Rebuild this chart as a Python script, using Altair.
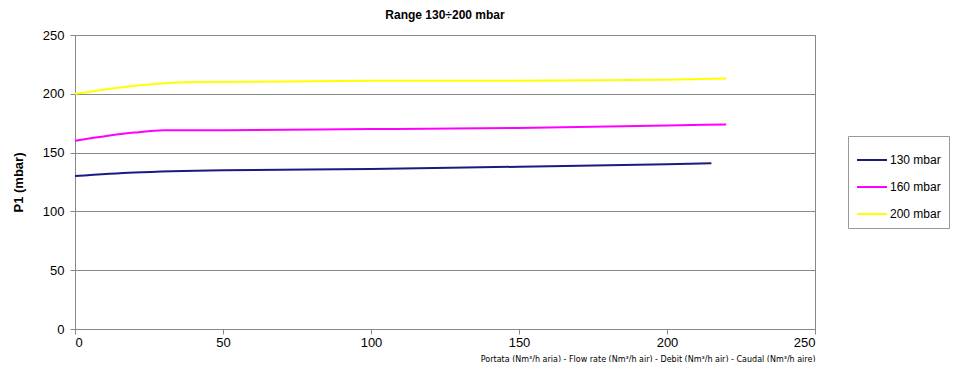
import altair as alt
import pandas as pd

series_names = ["130 mbar", "160 mbar", "200 mbar"]
colors = ["#1a1a80", "#ff00ff", "#ffff00"]

x_130 = [0, 20, 50, 100, 150, 200, 215]
y_130 = [130, 133, 135, 136, 138, 140, 141]
x_160 = [0, 20, 30, 50, 100, 150, 200, 220]
y_160 = [160, 167, 169, 169, 170, 171, 173, 174]
x_200 = [0, 25, 40, 100, 150, 200, 220]
y_200 = [200, 208, 210, 211, 211, 212, 213]

rows = []
for name, xs, ys in zip(series_names, [x_130, x_160, x_200], [y_130, y_160, y_200]):
    for i, (a, b) in enumerate(zip(xs, ys)):
        rows.append({"series": name, "x": a, "y": b, "order": i})
df = pd.DataFrame(rows)

x_title = "Portata (Nm³/h aria) - Flow rate (Nm³/h air) - Debit (Nm³/h air) - Caudal (Nm³/h aire)"

chart = alt.Chart(df).mark_line(strokeWidth=2, interpolate="monotone").encode(
    x=alt.X("x:Q", scale=alt.Scale(domain=[0, 250], nice=False),
            axis=alt.Axis(values=[0, 50, 100, 150, 200, 250], grid=False, title=x_title,
                          titleAnchor="end", titleFont="DejaVu Sans", titleFontSize=8,
                          titleFontWeight="normal", titlePadding=6, labelFontSize=13,
                          labelPadding=2)),
    y=alt.Y("y:Q", scale=alt.Scale(domain=[0, 250], nice=False),
            axis=alt.Axis(values=[0, 50, 100, 150, 200, 250], grid=True, title="P1 (mbar)",
                          titleFontWeight="bold", titleFontSize=13, labelFontSize=13,
                          labelPadding=6, titlePadding=17)),
    color=alt.Color("series:N", scale=alt.Scale(domain=series_names, range=colors),
                    legend=alt.Legend(title=None, orient="none", legendX=773, legendY=101,
                                      symbolType="stroke", symbolSize=900, symbolStrokeWidth=2,
                                      labelFontSize=12, rowPadding=5, labelOffset=2,
                                      strokeColor="#999999", fillColor="white", padding=8)),
    order="order:Q",
).properties(
    width=740, height=294,
    title=alt.TitleParams("Range 130÷200 mbar", fontSize=12, fontWeight="bold", offset=7),
    autosize=alt.AutoSizeParams(type="none"),
    padding={"left": 67, "top": 27, "right": 141, "bottom": 33},
).configure(font="Liberation Sans").configure_view(
    stroke="#888888", strokeWidth=1
).configure_axis(
    domainColor="#888888", tickColor="#888888", gridColor="#888888", gridOpacity=1,
    labelColor="#000000", titleColor="#000000", tickSize=5
)

chart.save("out.html", embed_options={"renderer": "svg", "actions": False})
